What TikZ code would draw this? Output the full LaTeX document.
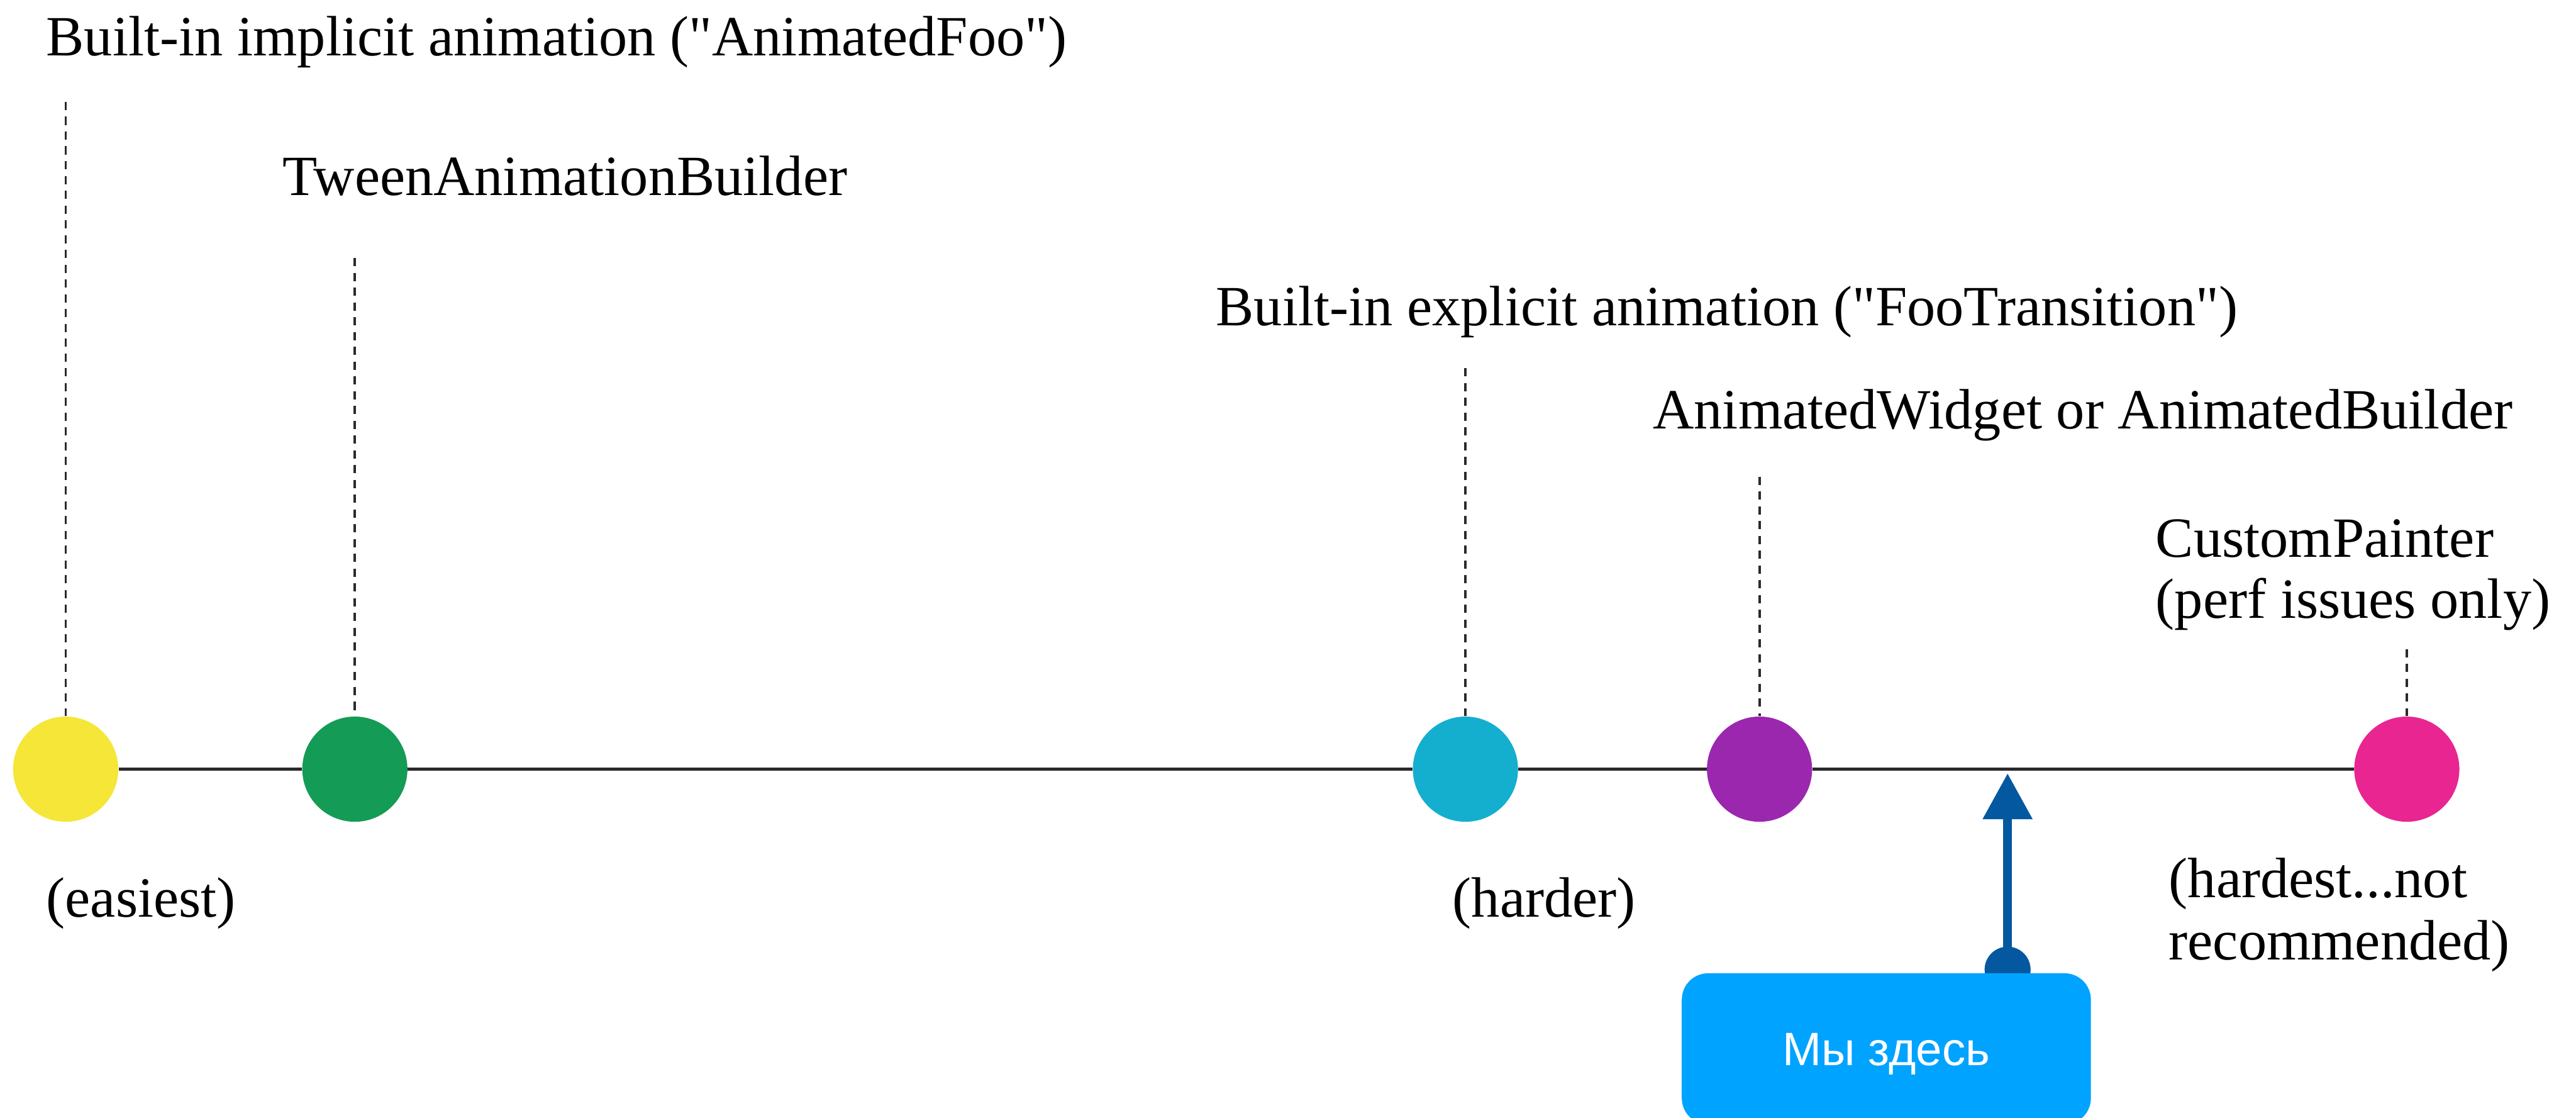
\documentclass[tikz,border=0pt]{standalone}
\usepackage{fontspec}
\setmainfont{Liberation Serif}[Ligatures=TeXOff]
\newfontfamily\boxsans{Liberation Sans}
\usetikzlibrary{arrows.meta}

\definecolor{cYellow}{HTML}{F5E637}
\definecolor{cGreen}{HTML}{149B55}
\definecolor{cCyan}{HTML}{14AECF}
\definecolor{cPurple}{HTML}{9B27AF}
\definecolor{cPink}{HTML}{E92592}
\definecolor{lineGray}{HTML}{2A2A2A}
\definecolor{boxBlue}{HTML}{00A3FF}
\definecolor{arrowBlue}{HTML}{0358A0}

\begin{document}
\begin{tikzpicture}[x=1pt, y=-1pt,
  stage/.style={circle, minimum size=64pt, inner sep=0pt},
  axis/.style={draw=lineGray, line width=2pt},
  lead/.style={draw=lineGray, line width=1.4pt, dash pattern=on 5pt off 4pt},
  lbl/.style={anchor=base west, inner sep=0pt, font=\fontsize{34.6}{40}\selectfont},
]
\useasboundingbox (0,0) rectangle (1568,680);

% difficulty stages along the timeline
\node[stage, fill=cYellow] (easy)     at (40,468)   {};
\node[stage, fill=cGreen]  (tween)    at (216,468)  {};
\node[stage, fill=cCyan]   (explicit) at (892,468)  {};
\node[stage, fill=cPurple] (animw)    at (1071,468) {};
\node[stage, fill=cPink]   (painter)  at (1465,468) {};

\draw[axis] (easy) -- (tween) -- (explicit) -- (animw) -- (painter);

% dashed leaders up to the captions
\coordinate (easyTop)     at (40,62);
\coordinate (tweenTop)    at (216,157);
\coordinate (explicitTop) at (892,224);
\coordinate (animwTop)    at (1071,290);
\coordinate (painterTop)  at (1465,395);
\draw[lead] (easyTop) -- (easy);
\draw[lead] (tweenTop) -- (tween);
\draw[lead] (explicitTop) -- (explicit);
\draw[lead] (animwTop) -- (animw);
\draw[lead] (painterTop) -- (painter);

% captions above
\node[lbl] (tEasy)     at (28,34)    {Built-in implicit animation ("AnimatedFoo")};
\node[lbl] (tTween)    at (172,119)  {TweenAnimationBuilder};
\node[lbl] (tExplicit) at (740,198)  {Built-in explicit animation ("FooTransition")};
\node[lbl] (tAnimw)    at (1006,261) {AnimatedWidget or AnimatedBuilder};
\node[lbl] (tPainterA) at (1312,339) {CustomPainter};
\node[lbl] (tPainterB) at (1312,376) {(perf issues only)};

% notes below
\node[lbl] (nEasy)   at (28,558)   {(easiest)};
\node[lbl] (nHarder) at (884,558)  {(harder)};
\node[lbl] (nHardA)  at (1320,546) {(hardest...not};
\node[lbl] (nHardB)  at (1320,584) {recommended)};

% "we are here" marker
\node[circle, fill=arrowBlue, minimum size=28pt, inner sep=0pt] (hereDot) at (1222,590) {};
\coordinate (aim) at (1222,470.5);
\draw[arrowBlue, line width=5.5pt, -{Triangle[width=29pt,length=28pt]}] (hereDot.center) -- (aim);
\node[fill=boxBlue, rounded corners=16pt, minimum width=249pt, minimum height=92pt,
      anchor=north west, text=white, text height=20pt, text depth=0pt,
      font=\boxsans\fontsize{28.5}{33}\selectfont] (here) at (1023.5,592) {Мы здесь};
\end{tikzpicture}
\end{document}
